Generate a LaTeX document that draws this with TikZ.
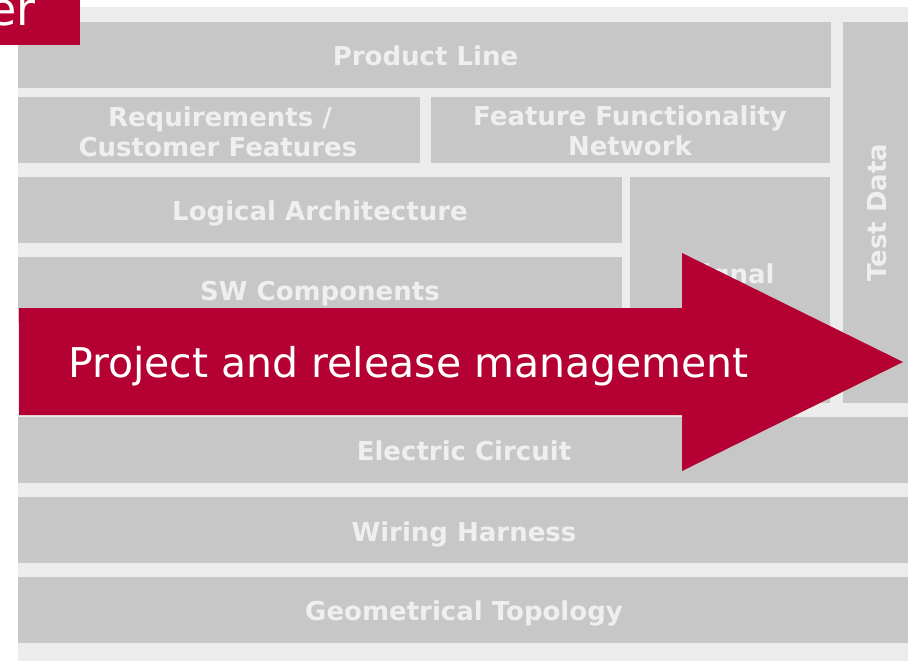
\documentclass[tikz,border=0pt]{standalone}
\usepackage{fontspec}
\setmainfont{DejaVu Sans}
\definecolor{panelgray}{RGB}{236,236,236}
\definecolor{boxgray}{RGB}{199,199,199}
\definecolor{boxtext}{RGB}{239,239,239}
\definecolor{brandred}{RGB}{180,0,50}
\tikzset{
  box/.style={rectangle, fill=boxgray, draw=none, inner sep=0pt},
  lbl/.style={text=boxtext, font=\bfseries\fontsize{26}{30}\selectfont, anchor=base, inner sep=0pt},
}
\begin{document}
\begin{tikzpicture}[x=1pt, y=-1pt]
\useasboundingbox (0,0) rectangle (908,661);
\fill[white] (0,0) rectangle (908,661);
% panel
\fill[panelgray] (18,7) rectangle (908,661);
% boxes
\node[box, minimum width=813pt, minimum height=66pt] (pl) at (424.5,55) {};
\node[box, minimum width=402pt, minimum height=66pt] (req) at (219,130) {};
\node[box, minimum width=399pt, minimum height=66pt] (ffn) at (630.5,130) {};
\node[box, minimum width=604pt, minimum height=66pt] (log) at (320,210) {};
\node[box, minimum width=604pt, minimum height=66pt] (sw) at (320,290) {};
\node[box, minimum width=200pt, minimum height=226pt] (sig) at (730,290) {};
\node[box, minimum width=65pt, minimum height=381pt] (td) at (875.5,212.5) {};
\node[box, minimum width=890pt, minimum height=66pt] (ec) at (463,450) {};
\node[box, minimum width=890pt, minimum height=66pt] (wh) at (463,530) {};
\node[box, minimum width=890pt, minimum height=66pt] (gt) at (463,610) {};
% labels
\node[lbl] (plt) at (425.5,66) {Product Line};
\node[lbl] (reqa) at (220,126) {Requirements /};
\node[lbl] (reqb) at (218,156) {Customer Features};
\node[lbl] (ffna) at (630,125) {Feature Functionality};
\node[lbl] (ffnb) at (630,155) {Network};
\node[lbl] (logt) at (320,220) {Logical Architecture};
\node[lbl] (swt) at (320,300) {SW Components};
\node[lbl] (sigt) at (729,283) {Signal};
\node[lbl, rotate=90] (tdt) at (886,212.5) {Test Data};
\node[lbl] (ect) at (464,460) {Electric Circuit};
\node[lbl] (wht) at (464,541) {Wiring Harness};
\node[lbl] (gtt) at (464,620) {Geometrical Topology};
% arrow
\fill[brandred] (19,308) -- (682,308) -- (682,253) -- (903,362) -- (682,471) -- (682,415) -- (19,415) -- cycle;
\node[text=white, font=\fontsize{41}{48}\selectfont, anchor=base west, inner sep=0pt] (arr) at (68,377) {Project and release management};
% header
\fill[brandred] (0,0) rectangle (80,45);
\begin{scope}
\clip (0,0) rectangle (80,45);
\node[text=white, font=\fontsize{46}{52}\selectfont, anchor=base east, inner sep=0pt] (hdr) at (36,26) {er};
\end{scope}
\end{tikzpicture}
\end{document}
